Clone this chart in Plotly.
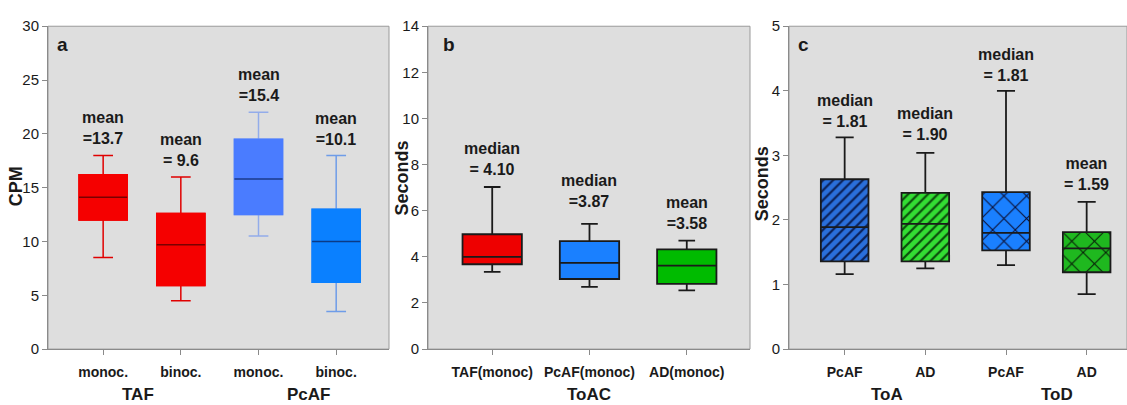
import plotly.graph_objects as go

# ---------------- data ----------------
# Panel a (CPM)
a_ticks = ["monoc.", "binoc.", "monoc.", "binoc."]
a_groups = ["TAF", "PcAF"]
a_low = [8.5, 4.5, 10.5, 3.5]
a_q1 = [12.0, 5.9, 12.5, 6.2]
a_med = [14.1, 9.7, 15.8, 10.0]
a_q3 = [16.2, 12.6, 19.5, 13.0]
a_high = [18.0, 16.0, 22.0, 18.0]
a_labels = ["mean<br>=13.7", "mean<br>= 9.6", "mean<br>=15.4", "mean<br>=10.1"]

# Panel b (Seconds, ToAC)
b_ticks = ["TAF(monoc)", "PcAF(monoc)", "AD(monoc)"]
b_groups = ["ToAC"]
b_low = [3.35, 2.7, 2.55]
b_q1 = [3.68, 3.04, 2.83]
b_med = [4.0, 3.74, 3.62]
b_q3 = [4.98, 4.68, 4.32]
b_high = [7.03, 5.43, 4.7]
b_labels = ["median<br>= 4.10", "median<br>=3.87", "mean<br>=3.58"]

# Panel c (Seconds, ToA / ToD)
c_ticks = ["PcAF", "AD", "PcAF", "AD"]
c_groups = ["ToA", "ToD"]
c_low = [1.16, 1.25, 1.30, 0.85]
c_q1 = [1.36, 1.36, 1.53, 1.19]
c_med = [1.89, 1.94, 1.80, 1.56]
c_q3 = [2.63, 2.42, 2.43, 1.81]
c_high = [3.28, 3.04, 4.00, 2.28]
c_labels = ["median<br>= 1.81", "median<br>= 1.90", "median<br>= 1.81", "mean<br>= 1.59"]

# ---------------- styles ----------------
FONT = "Liberation Sans"
TXT = "#1a1a1a"
BG = "#dedede"
AXC = "#8a8a8a"

a_fill = ["#f50000", "#f50000", "#4a7cff", "#0a80ff"]
a_whisk = ["#e00000", "#e00000", "#93acea", "#6e9ce8"]
a_medc = ["#7a0000", "#7a0000", "#1b3a8c", "#0b3a86"]
b_fill = ["#ee0000", "#1a80ff", "#00bb00"]
c_fill = ["#2a6fdb", "#33dd33", "#1a80ff", "#1fb81f"]
c_pat = ["/", "/", "x", "x"]
c_patc = ["#0a1f55", "#0b4a0b", "#0a0a2a", "#061806"]
c_patsize = [7, 7, 16, 16]
c_patsol = [0.32, 0.32, 0.12, 0.12]

a_shift = [6, 6, 6, 5]
b_shift = [7, 12, 7]
c_shift = [5, 8, 5, 7]

fig = go.Figure()


def add_whisker_box(x, low, q1, med, q3, high, color, width, cap, xa, ya, lw=1.5):
    fig.add_trace(go.Box(
        x=[x], lowerfence=[low], q1=[q1], median=[med], q3=[q3], upperfence=[high],
        width=width, whiskerwidth=cap, fillcolor="rgba(0,0,0,0)",
        line=dict(color=color, width=lw), boxpoints=False, showlegend=False,
        hoverinfo="skip", xaxis=xa, yaxis=ya))


# ----- panel a -----
for i in range(len(a_ticks)):
    add_whisker_box(i, a_low[i], a_q1[i], a_med[i], a_q3[i], a_high[i],
                    a_whisk[i], 0.62, 0.41, "x", "y")
    # body
    fig.add_trace(go.Box(
        x=[i], lowerfence=[a_q1[i]], q1=[a_q1[i]], median=[a_q1[i]], q3=[a_q3[i]],
        upperfence=[a_q3[i]], width=0.62, whiskerwidth=0, fillcolor=a_fill[i],
        line=dict(color=a_fill[i], width=1.5), boxpoints=False, showlegend=False,
        hoverinfo="skip", xaxis="x", yaxis="y"))
    # median
    fig.add_trace(go.Box(
        x=[i], lowerfence=[a_med[i]], q1=[a_med[i]], median=[a_med[i]], q3=[a_med[i]],
        upperfence=[a_med[i]], width=0.62, whiskerwidth=0, fillcolor="rgba(0,0,0,0)",
        line=dict(color=a_medc[i], width=1.5), boxpoints=False, showlegend=False,
        hoverinfo="skip", xaxis="x", yaxis="y"))

# ----- panel b -----
fig.add_trace(go.Bar(
    x=list(range(len(b_ticks))), y=[h - l for h, l in zip(b_q3, b_q1)], base=b_q1,
    width=0.61, marker=dict(color=b_fill, line=dict(width=0)),
    showlegend=False, hoverinfo="skip", xaxis="x2", yaxis="y2"))
for i in range(len(b_ticks)):
    add_whisker_box(i, b_low[i], b_q1[i], b_med[i], b_q3[i], b_high[i],
                    "#1a1a1a", 0.61, 0.28, "x2", "y2", lw=1.8)

# ----- panel c -----
for i in range(len(c_ticks)):
    fig.add_trace(go.Bar(
        x=[i], y=[c_q3[i] - c_q1[i]], base=[c_q1[i]], width=0.59,
        marker=dict(color=c_fill[i], line=dict(width=0),
                    pattern=dict(shape=c_pat[i], fgcolor=c_patc[i], bgcolor=c_fill[i],
                                 fgopacity=1, size=c_patsize[i], solidity=c_patsol[i],
                                 fillmode="replace")),
        showlegend=False, hoverinfo="skip", xaxis="x3", yaxis="y3"))
for i in range(len(c_ticks)):
    add_whisker_box(i, c_low[i], c_q1[i], c_med[i], c_q3[i], c_high[i],
                    "#1a1a1a", 0.59, 0.38, "x3", "y3", lw=1.8)

# ---------------- layout ----------------
W, H = 1127, 405
ydom = [1 - 355 / H, 1 - 18 / H]

def xax(dom, rng, ticks):
    return dict(domain=dom, range=rng, tickmode="array",
                tickvals=list(range(len(ticks))), ticktext=ticks,
                showline=True, linecolor=AXC, linewidth=1, ticks="outside",
                ticklen=5, tickcolor=AXC, showgrid=False, zeroline=False,
                ticklabelstandoff=5,
                tickfont=dict(family=FONT, size=14, color=TXT, weight="bold"),
                fixedrange=True)

def yax(anchor, rng, dtick):
    return dict(domain=ydom, range=rng, dtick=dtick, anchor=anchor,
                showline=True, linecolor=AXC, linewidth=1, ticks="outside",
                ticklen=5, tickcolor=AXC, showgrid=False, zeroline=False,
                tickfont=dict(family=FONT, size=15, color=TXT), fixedrange=True)

fig.update_layout(
    width=W, height=H, margin=dict(l=0, r=0, t=0, b=0),
    paper_bgcolor="white", plot_bgcolor=BG, boxmode="overlay", barmode="overlay",
    showlegend=False,
    xaxis=dict(xax([48 / W, 389 / W], [-0.71, 3.68], a_ticks), anchor="y"),
    xaxis2=dict(xax([428 / W, 750 / W], [-0.66, 2.65], b_ticks), anchor="y2"),
    xaxis3=dict(xax([789 / W, 1.0], [-0.69, 3.5], c_ticks), anchor="y3"),
    yaxis=yax("x", [0, 30], 5),
    yaxis2=yax("x2", [0, 14], 2),
    yaxis3=yax("x3", [0, 5], 1),
)

# borders (top/right)
for xr, yr in [("x", "y"), ("x2", "y2"), ("x3", "y3")]:
    fig.add_shape(type="rect", xref=f"{xr} domain", yref=f"{yr} domain",
                  x0=0, x1=1, y0=0, y1=1, line=dict(color="#9a9a9a", width=1),
                  layer="below")

ann_font = dict(family=FONT, size=16, color=TXT, weight="bold")

def box_labels(labels, highs, shifts, xr, yr):
    for i, (t, h, s) in enumerate(zip(labels, highs, shifts)):
        fig.add_annotation(x=i, y=h, xref=xr, yref=yr, text=t, showarrow=False,
                           yanchor="bottom", yshift=s, font=ann_font, align="center")

box_labels(a_labels, a_high, a_shift, "x", "y")
box_labels(b_labels, b_high, b_shift, "x2", "y2")
box_labels(c_labels, c_high, c_shift, "x3", "y3")

# panel letters
for letter, xr, yr, xp in [("a", "x", "y", 0.02), ("b", "x2", "y2", 0.04), ("c", "x3", "y3", 0.02)]:
    fig.add_annotation(x=xp, y=0.944, xref=f"{xr} domain", yref=f"{yr} domain",
                       text=letter, showarrow=False, xanchor="left", yanchor="middle",
                       font=dict(family=FONT, size=19, color=TXT, weight="bold"))

# group labels
grp_font = dict(family=FONT, size=17, color=TXT, weight="bold")
for names, xs, xr in [(a_groups, [0.45, 2.65], "x"), (b_groups, [1.0], "x2"),
                      (c_groups, [0.53, 2.63], "x3")]:
    for n, xv in zip(names, xs):
        fig.add_annotation(x=xv, y=0, xref=xr, yref="paper", text=n,
                           showarrow=False, yanchor="bottom", yshift=-9, font=grp_font)

# axis titles
for t, xp, yp in [("CPM", 16, 185), ("Seconds", 402, 177), ("Seconds", 762, 183)]:
    fig.add_annotation(x=xp / W, y=1 - yp / H, xref="paper", yref="paper", text=t,
                       textangle=-90, showarrow=False, xanchor="center", yanchor="middle",
                       font=dict(family=FONT, size=18, color=TXT, weight="bold"))

fig.write_html("out.html")
